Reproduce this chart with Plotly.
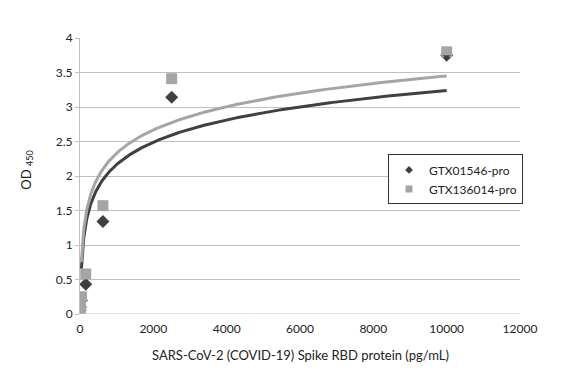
import numpy as np
import plotly.graph_objects as go

# Concentrations (pg/mL)
conc = [10000, 2500, 625, 156.25, 39.06, 9.77, 2.44, 0]
od_gtx01546 = [3.75, 3.14, 1.34, 0.43, 0.20, 0.10, 0.07, 0.05]
od_gtx136014 = [3.80, 3.41, 1.57, 0.58, 0.25, 0.12, 0.08, 0.06]
series_names = ["GTX01546-pro", "GTX136014-pro"]

# Logarithmic trendline coefficients (y = a*ln(x) + b)
trend_a_01546, trend_b_01546 = 0.466, -1.052
trend_a_136014, trend_b_136014 = 0.486, -1.026
trend_xmin, trend_xmax = 39.06, 10000

x_ticks = [0, 2000, 4000, 6000, 8000, 10000, 12000]
y_ticks = [0, 0.5, 1, 1.5, 2, 2.5, 3, 3.5, 4]

xt = np.geomspace(trend_xmin, trend_xmax, 300)

dark = "#404040"
light = "#a5a5a5"
font = "Lato, 'Open Sans', sans-serif"

fig = go.Figure()
fig.add_trace(go.Scatter(x=xt, y=trend_a_01546 * np.log(xt) + trend_b_01546,
                         mode="lines", line=dict(color=dark, width=3),
                         showlegend=False, hoverinfo="skip"))
fig.add_trace(go.Scatter(x=xt, y=trend_a_136014 * np.log(xt) + trend_b_136014,
                         mode="lines", line=dict(color=light, width=3),
                         showlegend=False, hoverinfo="skip"))
fig.add_trace(go.Scatter(x=conc, y=od_gtx01546, mode="markers", name=series_names[0],
                         marker=dict(symbol="diamond", size=10, color=dark), showlegend=False))
fig.add_trace(go.Scatter(x=conc, y=od_gtx136014, mode="markers", name=series_names[1],
                         marker=dict(symbol="square", size=11, color=light), showlegend=False))
# legend proxies with small markers (hidden under the same-coloured larger markers)
fig.add_trace(go.Scatter(x=conc[:1], y=od_gtx01546[:1], mode="markers", name=series_names[0],
                         marker=dict(symbol="diamond", size=6, color=dark), hoverinfo="skip"))
fig.add_trace(go.Scatter(x=conc[:1], y=od_gtx136014[:1], mode="markers", name=series_names[1],
                         marker=dict(symbol="square", size=7, color=light), hoverinfo="skip"))

fig.update_layout(
    width=566, height=366,
    margin=dict(l=72, r=54, t=30, b=60),
    paper_bgcolor="white", plot_bgcolor="white",
    font=dict(family=font, size=12, color="#222222"),
    legend=dict(x=0.70, y=0.578, xanchor="left", yanchor="top",
                bordercolor="#333333", borderwidth=1, bgcolor="white",
                font=dict(size=12), tracegroupgap=0, itemwidth=30,
                itemsizing="trace"),
    xaxis=dict(range=[0, 12000], tickvals=x_ticks, tickformat="d",
               showgrid=False, zeroline=False, showline=False, automargin=False,
               ticks="", ticklabelstandoff=6),
    yaxis=dict(range=[0, 4], tickvals=y_ticks, showgrid=True, gridcolor="#bfbfbf",
               zeroline=False, showline=True, linecolor="#bfbfbf", automargin=False,
               ticks="outside", ticklen=4, tickcolor="#bfbfbf"),
    annotations=[
        dict(text="SARS-CoV-2 (COVID-19) Spike RBD protein (pg/mL)", xref="paper", yref="paper",
             x=0.5, y=-0.149, xanchor="center", yanchor="middle", showarrow=False,
             font=dict(size=13)),
        dict(text="OD <sub>450</sub>", xref="paper", yref="paper",
             x=-0.12, y=0.52, xanchor="center", yanchor="middle", showarrow=False,
             textangle=-90, font=dict(size=13)),
    ],
)
fig.add_shape(type="line", xref="paper", yref="y", x0=0, x1=1, y0=0, y1=0,
              line=dict(color="#bfbfbf", width=1))

fig.write_html("out.html")
